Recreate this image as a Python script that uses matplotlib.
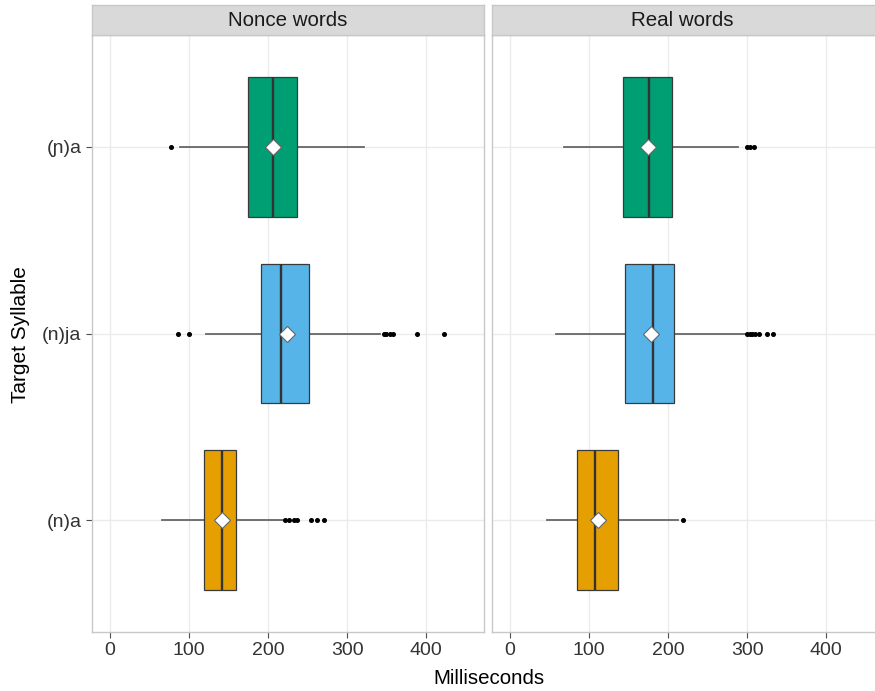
import matplotlib
matplotlib.use("Agg")
import matplotlib.pyplot as plt

plt.rcParams['font.family'] = ['Liberation Sans', 'DejaVu Sans']

panels = ["Nonce words", "Real words"]
syllables = ["(n)a", "(n)ja", "(ɲ)a"]
colors = ["#E69F00", "#56B4E9", "#009E73"]

# per panel, per syllable (order as in `syllables`)
whislo = [[66, 121, 88], [46, 58, 68]]
q1 = [[119, 191, 174], [85, 145, 143]]
med = [[141, 216.5, 206], [107, 181, 176]]
q3 = [[159.5, 251, 236], [136, 207, 205]]
whishi = [[219, 341, 321], [212, 297.5, 288]]
means = [[141, 223.5, 206], [111, 178, 174]]
outliers = [
    [[221.5, 225.7, 232, 236, 254, 261.6, 270],
     [85.7, 99.6, 346, 349.6, 354.4, 357.8, 388.6, 423],
     [77]],
    [[219],
     [300, 303, 306, 310, 315, 325, 332],
     [300, 304, 309]],
]

xticks = [0, 100, 200, 300, 400]

fig = plt.figure(figsize=(8.75, 6.91), dpi=100)

W, H = 875, 691
panel_left = [92, 492]
panel_w = 392
top, bottom = 35, 632
strip_h = 30

grid_c = "#EBEBEB"
border_c = "#C8C8C8"

for p in range(2):
    ax = fig.add_axes([panel_left[p] / W, 1 - bottom / H, panel_w / W, (bottom - top) / H])
    stats = []
    for i in range(3):
        stats.append(dict(whislo=whislo[p][i], q1=q1[p][i], med=med[p][i], q3=q3[p][i],
                          whishi=whishi[p][i], mean=means[p][i], fliers=outliers[p][i]))
    res = ax.bxp(stats, positions=[1, 2, 3], widths=0.75, orientation='horizontal',
                 patch_artist=True, showmeans=True, showcaps=False, manage_ticks=False,
                 boxprops=dict(edgecolor="#3A3A3A", linewidth=0.9),
                 whiskerprops=dict(color="#666666", linewidth=1.3),
                 medianprops=dict(color="#333333", linewidth=1.7),
                 meanprops=dict(marker="D", markerfacecolor="white", markeredgecolor="#666666",
                                markersize=8.5, markeredgewidth=0.8),
                 flierprops=dict(marker="o", markerfacecolor="black", markeredgecolor="black",
                                 markersize=2.6, linestyle="none"))
    for patch, c in zip(res["boxes"], colors):
        patch.set_facecolor(c)
    for ln in res["whiskers"]:
        ln.set_zorder(1.5)

    ax.set_xlim(-23, 473)
    ax.set_ylim(0.4, 3.6)
    ax.set_xticks(xticks)
    ax.set_yticks([1, 2, 3])
    ax.grid(True, color=grid_c, linewidth=1.0, zorder=0)
    ax.set_axisbelow(True)
    for s in ax.spines.values():
        s.set_color(border_c)
        s.set_linewidth(1.0)
    ax.tick_params(axis="both", colors="#4D4D4D", length=4, width=0.8,
                   labelsize=14, labelcolor="#333333")
    if p == 0:
        ax.set_yticklabels(syllables)
    else:
        ax.set_yticklabels([])
        ax.tick_params(axis="y", length=0)

    sax = fig.add_axes([panel_left[p] / W, 1 - (top) / H, panel_w / W, strip_h / H])
    sax.set_facecolor("#D9D9D9")
    sax.set_xticks([])
    sax.set_yticks([])
    for s in sax.spines.values():
        s.set_color(border_c)
        s.set_linewidth(1.0)
    sax.text(0.5 if p == 0 else 0.485, 0.5, panels[p], ha="center", va="center",
             fontsize=14.8, color="#1A1A1A", transform=sax.transAxes)

fig.text(489 / W, 1 - 679 / H, "Milliseconds", ha="center", va="center", fontsize=14.8)
fig.text(21 / W, 1 - 335 / H, "Target Syllable", ha="center", va="center",
         rotation=90, fontsize=15)

fig.savefig("out.png", dpi=100)
